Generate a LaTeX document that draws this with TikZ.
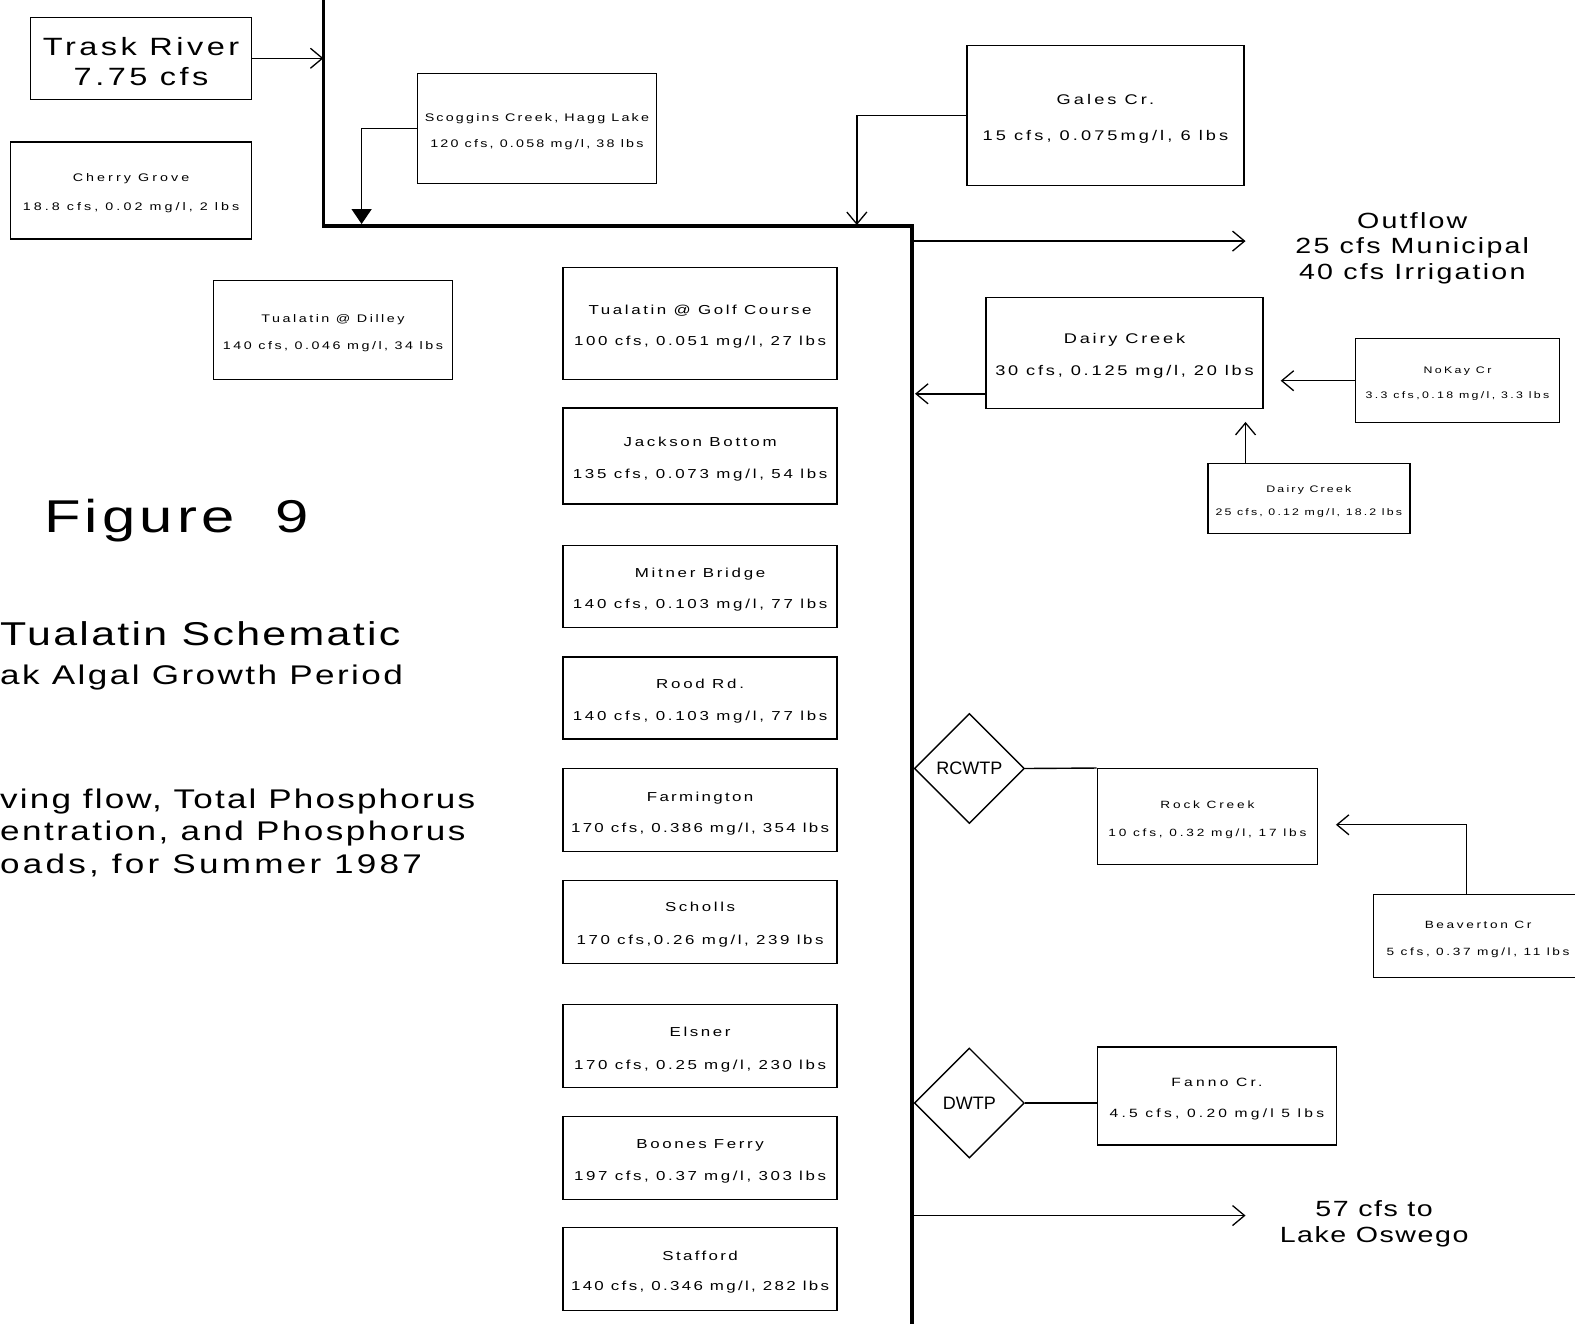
\documentclass[tikz,border=0pt]{standalone}
\usepackage{fontspec}
\setmainfont{Liberation Sans}
\usetikzlibrary{arrows.meta,shapes.geometric}
\newcommand{\fsz}[3]{\fontspec[FakeStretch=1.3,LetterSpace=#3]{Liberation Sans}\fontsize{#1}{#2}\selectfont}
\newcommand{\dn}{\rule{0pt}{\dimexpr .73em+6pt\relax}}
\begin{document}
\begin{tikzpicture}[x=1.00446pt,y=-1.00456pt,
  box/.style={draw,line width=1.4pt,inner sep=0pt,align=center},
  flow/.style={line width=1.4pt},
  mainline/.style={line width=3.4pt,line join=miter},
  barb/.style={-{Straight Barb[length=12pt,width=20pt,line width=1.3pt]}},
  tri/.style={-{Triangle[length=15pt,width=20pt]}},
  plant/.style={draw,shape=diamond,line width=1.4pt,minimum width=110pt,minimum height=110pt,inner sep=0pt,font=\fontsize{18}{20}\selectfont},
  lbl/.style={inner sep=0pt,align=center}]
\useasboundingbox (0,0) rectangle (1568,1317);
\clip (0,0) rectangle (1568,1317);
% main river line
\coordinate (top) at (322,-10);
\coordinate (c1) at (322,225);
\coordinate (c2) at (908,225);
\coordinate (bot) at (908,1340);
\draw[mainline] (top) -- (c1) -- (c2) -- (bot);
% boxes
\node[box,minimum width=221pt,minimum height=82pt,font=\fsz{25}{30}{14}] (trask) at (140.5,58) {\dn Trask River\\7.75 cfs};
\node[box,minimum width=241pt,minimum height=97pt,font=\fsz{11}{29}{28}] (cherry) at (130.5,189.5) {\dn Cherry Grove\\18.8 cfs, 0.02 mg/l, 2 lbs};
\node[box,minimum width=239pt,minimum height=110pt,font=\fsz{11}{26}{20}] (scog) at (534.5,128) {\dn Scoggins Creek, Hagg Lake\\120 cfs, 0.058 mg/l, 38 lbs};
\node[box,minimum width=277pt,minimum height=140pt,font=\fsz{14}{36}{22}] (gales) at (1100.5,115) {\dn Gales Cr.\\15 cfs, 0.075mg/l, 6 lbs};
\node[box,minimum width=239pt,minimum height=99pt,font=\fsz{11}{27}{23}] (dilley) at (331.5,328.5) {\dn Tualatin @ Dilley\\140 cfs, 0.046 mg/l, 34 lbs};
\node[box,minimum width=274pt,minimum height=112pt,font=\fsz{13}{31}{20}] (golf) at (697,322) {\dn Tualatin @ Golf Course\\100 cfs, 0.051 mg/l, 27 lbs};
\node[box,minimum width=274pt,minimum height=96pt,font=\fsz{13}{32}{21}] (jackson) at (697,454) {\dn Jackson Bottom\\135 cfs, 0.073 mg/l, 54 lbs};
\node[box,minimum width=274pt,minimum height=82pt,font=\fsz{13}{31}{21}] (mitner) at (697,584) {\dn Mitner Bridge\\140 cfs, 0.103 mg/l, 77 lbs};
\node[box,minimum width=274pt,minimum height=82pt,font=\fsz{13}{32}{21}] (rood) at (697,695) {\dn Rood Rd.\\140 cfs, 0.103 mg/l, 77 lbs};
\node[box,minimum width=274pt,minimum height=83pt,font=\fsz{13}{31}{18}] (farm) at (697,806.5) {\dn Farmington\\170 cfs, 0.386 mg/l, 354 lbs};
\node[box,minimum width=274pt,minimum height=83pt,font=\fsz{13}{33}{20}] (scholls) at (697,917.5) {\dn Scholls\\170 cfs,0.26 mg/l, 239 lbs};
\node[box,minimum width=274pt,minimum height=83pt,font=\fsz{13}{33}{20}] (elsner) at (697,1041.5) {\dn Elsner\\170 cfs, 0.25 mg/l, 230 lbs};
\node[box,minimum width=274pt,minimum height=83pt,font=\fsz{13}{32}{20}] (boones) at (697,1152.5) {\dn Boones Ferry\\197 cfs, 0.37 mg/l, 303 lbs};
\node[box,minimum width=274pt,minimum height=83pt,font=\fsz{13}{30}{18}] (stafford) at (697,1263.5) {\dn Stafford\\140 cfs, 0.346 mg/l, 282 lbs};
\node[box,minimum width=277pt,minimum height=111pt,font=\fsz{14}{32}{20}] (dairy) at (1119.5,351.5) {\dn Dairy Creek\\30 cfs, 0.125 mg/l, 20 lbs};
\node[box,minimum width=204pt,minimum height=84pt,font=\fsz{9.5}{25}{25}] (nokay) at (1451,379) {\dn NoKay Cr\\3.3 cfs,0.18 mg/l, 3.3 lbs};
\node[box,minimum width=202pt,minimum height=70pt,font=\fsz{9.5}{23}{23}] (dairyb) at (1303,496) {\dn Dairy Creek\\25 cfs, 0.12 mg/l, 18.2 lbs};
\node[box,minimum width=220pt,minimum height=96pt,font=\fsz{10.5}{28}{27}] (rock) at (1202,813) {\dn Rock Creek\\10 cfs, 0.32 mg/l, 17 lbs};
\node[box,minimum width=209pt,minimum height=83pt,font=\fsz{10.5}{27}{25}] (beav) at (1471.5,931.5) {\dn Beaverton Cr\\5 cfs, 0.37 mg/l, 11 lbs};
\node[box,minimum width=239pt,minimum height=98pt,font=\fsz{12}{31}{27}] (fanno) at (1211.5,1091) {\dn Fanno Cr.\\4.5 cfs, 0.20 mg/l 5 lbs};
% treatment plants
\node[plant] (rc) at (965,765) {RCWTP};
\node[plant] (dw) at (965,1098) {DWTP};
% free ends
\coordinate (scogin) at (360,223);
\coordinate (galesin) at (853,224);
\coordinate (outs) at (908,240);
\coordinate (oute) at (1240,240);
\coordinate (dairyin) at (911,392);
\coordinate (nokayin) at (1275,379);
\coordinate (dbin) at (1240,420);
\coordinate (bcorner) at (1460,821);
\coordinate (bin) at (1330,821);
\coordinate (lks) at (908,1210);
\coordinate (lke) at (1240,1210);
% connectors
\draw[flow,barb] (trask.east) -- (trask.east -| c1);
\draw[flow,tri] (scog.west) -| (scogin);
\draw[flow,barb] (gales.west) -| (galesin);
\draw[flow,barb] (outs) -- (oute);
\draw[flow,barb] (dairy.west |- dairyin) -- (dairyin);
\draw[flow,barb] (nokay.west |- nokayin) -- (nokayin);
\draw[flow,barb] (dbin |- dairyb.north) -- (dbin);
\draw[flow] (rc.east) -- (rock.north west);
\draw[flow,barb] (bcorner |- beav.north) -- (bcorner) -- (bin);
\draw[flow] (dw.east) -- (fanno.west |- dw.east);
\draw[flow,barb] (lks) -- (lke);
% texts
\node[lbl,font=\fsz{22}{25.5}{10}] (outtxt) at (1406,247) {Outflow\\25 cfs Municipal\\40 cfs Irrigation};
\node[lbl,font=\fsz{22}{26}{7}] (lktxt) at (1368,1218) {57 cfs to\\Lake Oswego};
\node[lbl,font=\fsz{46}{50}{9}] (fig) at (176,518) {Figure\ \ 9};
\node[lbl,anchor=west,font=\fsz{33}{36}{7}] (t1) at (0,631) {Tualatin Schematic};
\node[lbl,anchor=west,font=\fsz{27}{30}{9}] (t2) at (0,674) {ak Algal Growth Period};
\node[lbl,anchor=west,font=\fsz{27}{30}{8}] (t3) at (0,798) {ving flow, Total Phosphorus};
\node[lbl,anchor=west,font=\fsz{27}{30}{9}] (t4) at (0,830) {entration, and Phosphorus};
\node[lbl,anchor=west,font=\fsz{27}{30}{12}] (t5) at (0,861) {oads, for Summer 1987};
\end{tikzpicture}
\end{document}
